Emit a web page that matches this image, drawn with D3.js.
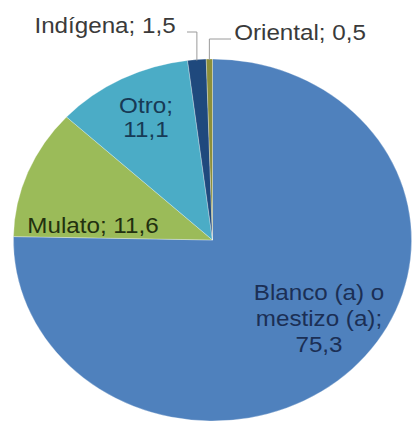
<!DOCTYPE html>
<html>
<head>
<meta charset="utf-8">
<script src="https://cdn.jsdelivr.net/npm/d3@7"></script>
<style>
  html, body { margin: 0; padding: 0; background: #ffffff; }
  svg { display: block; }
  text { font-family: "Liberation Sans", Arial, sans-serif; }
</style>
</head>
<body>
<svg id="chart" width="416" height="427"></svg>
<script>
// ---- data ----
const categories = ["Blanco (a) o mestizo (a)", "Mulato", "Otro", "Indígena", "Oriental"];
const values = [75.3, 11.6, 11.1, 1.5, 0.5];
const valueLabels = ["75,3", "11,6", "11,1", "1,5", "0,5"];
const labelLines = [
  ["Blanco (a) o", "mestizo (a);", "75,3"],
  ["Mulato; 11,6"],
  ["Otro;", "11,1"],
  ["Indígena; 1,5"],
  ["Oriental; 0,5"]
];
const colors = ["#4F81BD", "#9BBB59", "#4BACC6", "#1F497D", "#8C8F3A"];
const textColors = ["#1b2f55", "#22300f", "#173a55", "#3a3a3a", "#3a3a3a"];

// ---- layout ----
const W = 416, H = 427;
const cx = 212.5, cy = 240, ry = 181, sx = 1.1;
const fontSize = 22;
// label anchor (center x, first baseline y) and line spacing
const labelLayout = [
  { x: 319, y: 300, dy: 26 },
  { x: 93, y: 233, dy: 24 },
  { x: 146, y: 113, dy: 24 },
  { x: 105, y: 33, dy: 24, leader: { x0: 187, y: 32 } },
  { x: 300, y: 40, dy: 24, leader: { x0: 231, y: 39 } }
];

const svg = d3.select("#chart");

const pie = d3.pie().sort(null).value(d => d)(values);
const arc = d3.arc().innerRadius(0).outerRadius(ry);

const pieG = svg.append("g").attr("transform", `translate(${cx},${cy}) scale(${sx},1)`);
pieG.selectAll("path").data(pie).join("path")
  .attr("d", arc)
  .attr("fill", (d, i) => colors[i])
  .attr("stroke", "#ffffff")
  .attr("stroke-opacity", 0.35)
  .attr("stroke-width", 0.8);

// leader lines for small slices
pie.forEach((d, i) => {
  const L = labelLayout[i].leader;
  if (!L) return;
  const mid = (d.startAngle + d.endAngle) / 2;
  const px = cx + Math.sin(mid) * ry * sx;
  const py = cy - Math.cos(mid) * ry;
  svg.append("path")
    .attr("d", d3.line()([[L.x0, L.y], [px, L.y], [px, py + 1]]))
    .attr("fill", "none")
    .attr("stroke", "#9a9a9a")
    .attr("stroke-width", 1);
});

// labels
labelLines.forEach((lines, i) => {
  const p = labelLayout[i];
  lines.forEach((t, k) => {
    svg.append("text")
      .attr("transform", `translate(${p.x},${p.y + k * p.dy}) scale(${sx},1)`)
      .attr("text-anchor", "middle")
      .attr("font-size", fontSize)
      .attr("fill", textColors[i])
      .text(t);
  });
});
</script>
</body>
</html>
